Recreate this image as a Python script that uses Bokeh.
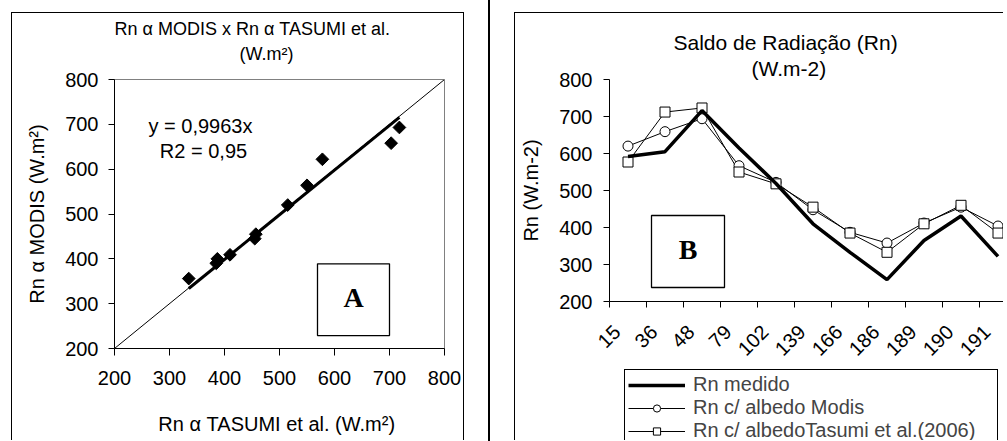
import math
from bokeh.plotting import figure
from bokeh.models import (Range1d, FixedTicker, BoxAnnotation, Label, Legend, LegendItem,
                          Title, Div)
from bokeh.layouts import row, column
from bokeh.embed import file_html
from bokeh.resources import INLINE

# ---------------- data : panel A (scatter) ----------------
tasumi_x = [335, 385, 387, 410, 455, 457, 515, 550, 578, 703, 718]
modis_y = [356, 390, 400, 409, 445, 455, 520, 564, 622, 658, 693]
slope = 0.9963
r2 = 0.95
one_to_one = [200, 800]
a_ticks = [200, 300, 400, 500, 600, 700, 800]

# ---------------- data : panel B (lines) ----------------
days = ["15", "36", "48", "79", "102", "139", "166", "186", "189", "190", "191"]
rn_medido = [592, 605, 716, 615, 519, 410, 333, 259, 365, 431, 322]
rn_modis = [620, 659, 694, 567, 522, 448, 387, 358, 412, 455, 404]
rn_tasumi = [577, 712, 723, 550, 518, 455, 385, 333, 410, 460, 385]
b_yticks = [200, 300, 400, 500, 600, 700, 800]

FONT = "Liberation Sans"
SERIF = "Liberation Serif"

# ---------------- layout (page pixels) ----------------
A_X0, A_Y0, A_WC, A_HC = 12, 13, 453, 428
A_L, A_T, A_W, A_H = 114, 78, 330, 270
B_X0, B_Y0, B_WC, B_HC = 517, 13, 489, 356
B_L, B_T, B_CAT, B_H = 611, 79, 37, 222
LEG_H = 441 - (B_Y0 + B_HC)


def pa(px, py):
    return 200 + (px - A_L) / A_W * 600, 800 - (py - A_T) / A_H * 600


def pb(px, py):
    return (px - B_L) / B_CAT, 800 - (py - B_T) / B_H * 600


def add_label(fig, xy, text, size="20px", font=FONT, style="normal"):
    fig.add_layout(Label(x=xy[0], y=xy[1], text=text, text_font=font, text_font_size=size,
                         text_font_style=style, text_align="center", text_baseline="middle",
                         text_color="black"))


def add_box(fig, p1, p2):
    (x1, y1), (x2, y2) = p1, p2
    fig.add_layout(BoxAnnotation(left=min(x1, x2), right=max(x1, x2), bottom=min(y1, y2),
                                 top=max(y1, y2), fill_color="white", fill_alpha=1,
                                 line_color="black", line_alpha=1, line_width=1.3))


def no_align(fig):
    try:
        fig.frame_align = False
    except Exception:
        pass


def style_axes(fig):
    for ax in fig.axis:
        ax.axis_line_color = "black"
        ax.axis_line_width = 1
        ax.major_tick_line_color = "black"
        ax.minor_tick_line_color = None
        ax.major_tick_in = 0
        ax.major_tick_out = 6
        ax.major_label_text_font = FONT
        ax.major_label_text_font_size = "20px"
        ax.major_label_text_color = "black"
        ax.axis_label_text_font = FONT
        ax.axis_label_text_font_size = "20px"
        ax.axis_label_text_font_style = "normal"
        ax.axis_label_text_color = "black"


def style_title(t, size, offset, standoff):
    t.text_font = FONT
    t.text_font_size = size
    t.text_font_style = "normal"
    t.text_color = "black"
    t.align = "left"
    t.offset = offset
    t.standoff = standoff
    t.vertical_align = "bottom"


# ================= Panel A =================
p1 = figure(width=A_WC, height=A_HC, x_range=Range1d(200, 800), y_range=Range1d(200, 800),
            output_backend="svg", toolbar_location=None,
            title="Rn α MODIS x Rn α TASUMI et al.",
            min_border_left=A_L - A_X0, min_border_top=A_T - A_Y0,
            min_border_right=A_WC - (A_L - A_X0) - A_W,
            min_border_bottom=A_HC - (A_T - A_Y0) - A_H,
            margin=(12, 0, 0, 11),
            styles={"border-left": "1px solid black", "border-top": "1px solid black",
                    "border-right": "1px solid black"})
no_align(p1)
p1.grid.visible = False
p1.outline_line_color = "#808080"
style_axes(p1)
p1.xaxis.ticker = FixedTicker(ticks=a_ticks)
p1.yaxis.ticker = FixedTicker(ticks=a_ticks)
p1.xaxis.major_tick_out = 7
p1.xaxis.major_label_standoff = 15
p1.yaxis.major_label_standoff = 10
p1.yaxis.axis_label = "Rn α MODIS (W.m²)"
p1.yaxis.axis_label_standoff = 14
p1.xaxis.axis_label = "Rn α TASUMI et al.  (W.m²)"
p1.xaxis.axis_label_standoff = 25
# titles: spacer (closest to frame), unit line, then main line (figure title, outermost)
spacer = Title(text=" ")
style_title(spacer, "8px", 0, 5)
p1.add_layout(spacer, "above")
t1 = Title(text="(W.m²)")
style_title(t1, "18px", 239 - A_L, 0)
p1.add_layout(t1, "above")
style_title(p1.title, "18px", 0, 6)

p1.line(one_to_one, one_to_one, line_color="black", line_width=1)
tx = [min(tasumi_x), max(tasumi_x)]
p1.line(tx, [slope * v for v in tx], line_color="black", line_width=3)
p1.scatter(tasumi_x, modis_y, marker="square", angle=math.pi / 4, size=9,
           fill_color="black", line_color="black")

add_label(p1, pa(200, 125), "y = " + f"{slope:.4f}".replace(".", ",") + "x")
add_label(p1, pa(203, 150), "R2 = " + f"{r2:.2f}".replace(".", ","))
add_box(p1, pa(317, 263), pa(389, 335))
add_label(p1, pa(353, 297), "A", size="28px", font=SERIF, style="bold")

# separator line of the page
sep = Div(text="", width=2, height=441, margin=(0, 0, 0, 24),
          styles={"background-color": "black"})

# ================= Panel B =================
n = len(days)
xs = [i + 0.5 for i in range(n)]
label_pos = [i + 0.5 - 0.3 for i in range(n)]
bounds = list(range(n + 1))

bl = B_L - B_X0
p2 = figure(width=B_WC, height=B_HC, x_range=Range1d(0, (B_WC - bl) / B_CAT),
            y_range=Range1d(200, 800), output_backend="svg", toolbar_location=None,
            title="Saldo de Radiação (Rn)",
            min_border_left=bl, min_border_top=B_T - B_Y0,
            min_border_right=0, min_border_bottom=B_HC - (B_T - B_Y0) - B_H,
            margin=(0, 0, 0, 0),
            styles={"border-left": "1px solid black", "border-top": "1px solid black"})
no_align(p2)
p2.grid.visible = False
p2.outline_line_color = None
style_axes(p2)
p2.yaxis.ticker = FixedTicker(ticks=b_yticks)
p2.yaxis.major_label_standoff = 11
p2.yaxis.axis_label = "Rn (W.m-2)"
p2.yaxis.axis_label_standoff = 14
p2.xaxis.ticker = FixedTicker(ticks=label_pos, minor_ticks=bounds)
p2.xaxis.major_label_overrides = {t: d for t, d in zip(label_pos, days)}
p2.xaxis.major_tick_out = 0
p2.xaxis.minor_tick_line_color = "black"
p2.xaxis.minor_tick_out = 6
p2.xaxis.minor_tick_in = 0
p2.xaxis.major_label_orientation = math.pi / 4
p2.xaxis.major_label_standoff = 21
t2 = Title(text="(W.m-2)")
style_title(t2, "21px", 753 - B_L, 0)
p2.add_layout(t2, "above")
style_title(p2.title, "21px", 675 - B_L, 2)

l_mod = p2.line(xs, rn_modis, line_color="black", line_width=1)
l_tas = p2.line(xs, rn_tasumi, line_color="black", line_width=1)
s_mod = p2.scatter(xs, rn_modis, marker="circle", size=10, fill_color="white",
                   line_color="black", line_width=1)
s_tas = p2.scatter(xs, rn_tasumi, marker="square", size=10, fill_color="white",
                   line_color="black", line_width=1)
l_med = p2.line(xs, rn_medido, line_color="black", line_width=3.5)

add_box(p2, pb(653, 215), pb(726, 287))
add_label(p2, pb(689.5, 249), "B", size="28px", font=SERIF, style="bold")

# legend strip under panel B: same series, drawn off-range so only the legend shows
lg = figure(width=B_WC, height=LEG_H, x_range=Range1d(0, 1), y_range=Range1d(0, 1),
            output_backend="svg", toolbar_location=None,
            x_axis_location=None, y_axis_location=None,
            min_border_left=625 - B_X0, min_border_right=0, min_border_top=0, min_border_bottom=0,
            margin=(0, 0, 0, 0), styles={"border-left": "1px solid black"})
no_align(lg)
lg.grid.visible = False
lg.outline_line_color = None
g_med = lg.line(xs, rn_medido, line_color="black", line_width=3.5)
g_mod_l = lg.line(xs, rn_modis, line_color="black", line_width=1)
g_mod_s = lg.scatter(xs, rn_modis, marker="circle", size=10, fill_color="white", line_color="black")
g_tas_l = lg.line(xs, rn_tasumi, line_color="black", line_width=1)
g_tas_s = lg.scatter(xs, rn_tasumi, marker="square", size=10, fill_color="white", line_color="black")
legend = Legend(items=[
    LegendItem(label="Rn medido", renderers=[g_med]),
    LegendItem(label="Rn c/ albedo Modis", renderers=[g_mod_l, g_mod_s]),
    LegendItem(label="Rn c/ albedoTasumi et al.(2006)", renderers=[g_tas_l, g_tas_s]),
], location="top_left")
legend.label_text_font = FONT
legend.label_text_font_size = "20px"
legend.label_height = 18
legend.glyph_height = 18
legend.glyph_width = 57
legend.label_width = 301
legend.label_standoff = 8
legend.spacing = 0
legend.padding = 3
legend.margin = 1
legend.border_line_color = "black"
legend.border_line_width = 1
legend.border_line_alpha = 1
legend.background_fill_color = "white"
legend.background_fill_alpha = 1
lg.add_layout(legend)

right = column(p2, lg, margin=(12, 0, 0, 24))
layout = row(p1, sep, right)
open("out.html", "w").write(file_html(layout, INLINE))
